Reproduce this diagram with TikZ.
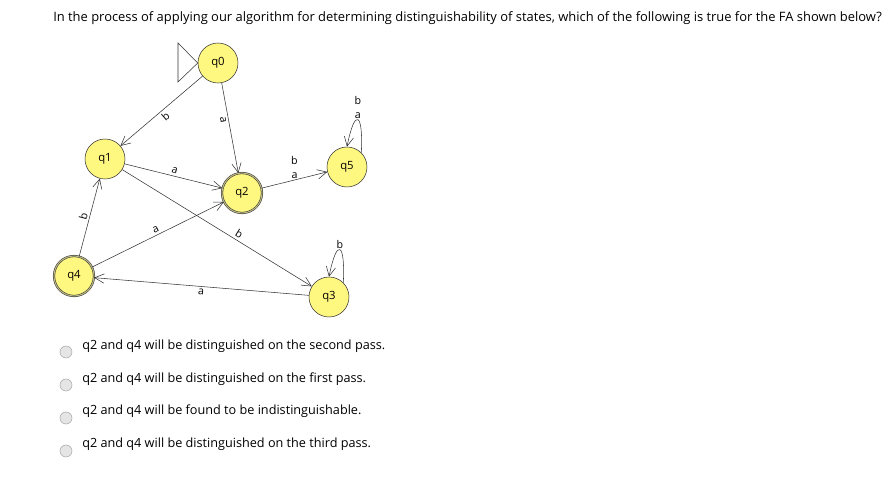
\documentclass[tikz,border=0pt]{standalone}
\usepackage{fontspec}
\setmainfont{Open Sans}
\usetikzlibrary{arrows.meta}
\begin{document}
\begin{tikzpicture}[x=0.75pt,y=-0.75pt,
  st/.style={circle,draw=black!80,fill=yellow!50,minimum size=30pt,inner sep=0pt,font=\fontsize{8.5}{9}\selectfont},
  acc/.style={st,double=yellow!50!black!60,double distance=0.8pt,draw=black!80},
  ed/.style={draw=black!80,-{Straight Barb[length=7pt,width=7pt]}},
  lb/.style={font=\fontsize{8}{9}\selectfont,sloped,above,inner sep=1.5pt},
  radio/.style={circle,draw=gray!70,fill=gray!20,minimum size=9pt,inner sep=0pt},
  ans/.style={anchor=west,font=\fontsize{9.5}{11}\selectfont,inner sep=0pt}]
\useasboundingbox (0,0) rectangle (893,479);
\fill[white] (0,0) rectangle (893,479);
\node[anchor=west,inner sep=0pt,font=\fontsize{9.7}{11}\selectfont] (qt) at (53,18) {In the process of applying our algorithm for determining distinguishability of states, which of the following is true for the FA shown below?};
\node[st] (q0) at (218,63) {q0};
\node[st] (q1) at (105,159) {q1};
\node[acc] (q2) at (242,193) {q2};
\node[st] (q5) at (347,167) {q5};
\node[acc] (q4) at (74,276) {q4};
\node[st] (q3) at (329,297) {q3};
\draw[black!80] (q0.west) -- (178,43) -- (178,82) -- cycle;
\draw[ed] (q0) -- node[lb,below]{b} (q1);
\draw[ed] (q0) -- node[lb,below,pos=0.4]{a} (q2);
\draw[ed] (q1) -- node[lb]{a} (q2);
\draw[ed] (q1) -- node[lb,pos=0.6]{b} (q3);
\draw[ed] (q4) -- node[lb]{b} (q1);
\draw[ed] (q4) -- node[lb]{a} (q2);
\draw[ed] (q3) -- node[lb,below]{a} (q4);
\draw[ed] (q2) -- node[font=\fontsize{8}{9}\selectfont,above,align=center,inner sep=1pt]{b\\[1pt]a} (q5);
\draw[ed] (q5.north east) .. controls +(2,-40) and +(8,-40) .. node[above,font=\fontsize{8}{9}\selectfont,align=center,inner sep=1pt]{b\\[1pt]a} (q5.north);
\draw[ed] (q3.north east) .. controls +(2,-40) and +(8,-40) .. node[above,font=\fontsize{8}{9}\selectfont,inner sep=1pt]{b} (q3.north);
\node[radio] (r1) at (66,352) {};
\node[radio] (r2) at (66,385) {};
\node[radio] (r3) at (66,418) {};
\node[radio] (r4) at (66,451) {};
\node[ans] (a1) at (82,346) {q2 and q4 will be distinguished on the second pass.};
\node[ans] (a2) at (82,379) {q2 and q4 will be distinguished on the first pass.};
\node[ans] (a3) at (82,411) {q2 and q4 will be found to be indistinguishable.};
\node[ans] (a4) at (82,444) {q2 and q4 will be distinguished on the third pass.};
\end{tikzpicture}
\end{document}
